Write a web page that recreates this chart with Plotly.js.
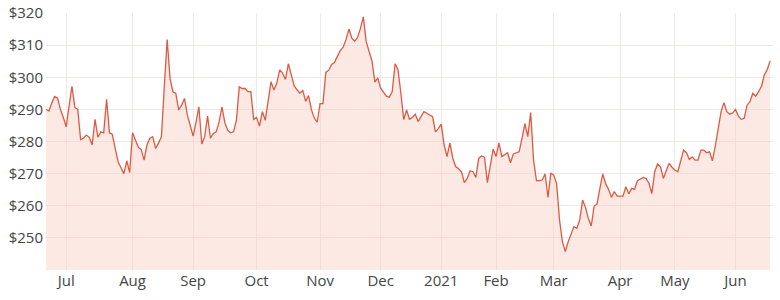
<!DOCTYPE html>
<html>
<head>
<meta charset="utf-8">
<script src="https://cdn.plot.ly/plotly-3.0.1.min.js"></script>
<style>html,body{margin:0;padding:0;background:#fff;}#chart{width:780px;height:300px;}</style>
</head>
<body>
<div id="chart"></div>
<script>
// Trading calendar (ASX): first and last session, market holidays in range
const startDate = '2020-06-22';
const endDate = '2021-06-18';
const holidays = ['2020-12-25', '2020-12-28', '2021-01-01', '2021-01-26', '2021-04-02', '2021-04-05', '2021-04-26', '2021-06-14'];

// Closing price per trading session (AUD)
const prices = [
  290, 289.5, 292, 294, 293.5, 290, 287.5,
  284.6, 291, 297.2, 290.6, 290, 280.6, 281, 282, 281.3, 278.9, 286.9, 281.3, 283, 282.7, 293.1, 282.7, 282.2, 277.8, 273.7, 271.8, 270, 274, 270.3,
  282.7, 280.2, 278.2, 277.5, 274.2, 278.9, 281, 281.5, 277.8, 279.5, 281.5, 297, 311.7, 299.6, 295.5, 295, 289.8, 291.3, 293.4, 288.2, 285,
  281.7, 286, 290.8, 279.2, 281.5, 287.9, 281, 282.5, 283, 286.1, 290.8, 285.8, 283.5, 282.7, 283, 286.6, 297, 296.5, 296.5, 295.5, 295.5, 286.9,
  287.5, 284.8, 289.3, 286.6, 293, 298.6, 296, 298.1, 302.3, 301.3, 299.3, 304.2, 300.8, 297.4, 296.1, 295.1, 295.9, 292.5, 294.3, 289.9, 287.3, 286,
  291.8, 291.8, 301.5, 302.2, 304, 304.6, 306.5, 308.3, 309.4, 311.7, 315, 312.2, 311.2, 312.4, 315.2, 318.8, 311, 307.6, 305, 298.5, 299.8,
  296.6, 295.5, 294.1, 293.8, 295.5, 304.2, 302.4, 295.1, 286.8, 289.8, 286.9, 287.5, 288.5, 286.2, 288, 289.3, 288.8, 288.3, 287.7, 283, 284,
  285.4, 278.9, 275.3, 279.6, 274.8, 272.2, 271.5, 270.6, 267.2, 268.5, 270.9, 270.6, 268.8, 274.8, 275.5, 275.1, 267.2, 272, 277.6,
  275.3, 279.6, 275.3, 276, 276.5, 273.4, 276.1, 276.5, 276.8, 281, 285.6, 281.5, 289, 274.2, 267.8, 267.8, 268, 269.9, 262.6, 270.1,
  269.6, 266.8, 255.6, 248.8, 245.7, 248.8, 251.4, 253.5, 253, 255.6, 261.8, 259.5, 256, 253.7, 259.9, 260.5, 265.4, 269.9, 266.8, 265.1, 262.6, 264.4, 263,
  263, 263, 265.9, 263.7, 265.4, 265.1, 267.8, 268.2, 268.8, 268.5, 267, 263.8, 270.6, 273, 272.1, 268.5, 271.1, 273.2, 272, 271.1,
  270.6, 274, 277.3, 276.5, 274.4, 275.2, 274.2, 274.2, 277.3, 277.3, 276.5, 276.8, 274, 278.6, 284.1, 289.3, 292.1, 289.3, 288.5, 288.9, 290,
  287.9, 286.9, 287.2, 291.3, 292.4, 295, 294.1, 295.5, 297.2, 300.7, 302.4, 305.1, 304.8
];

// Month ticks: first trading session of each month, and their labels
const tickDates = ['2020-07-01', '2020-08-03', '2020-09-01', '2020-10-01', '2020-11-02', '2020-12-01', '2021-01-04', '2021-02-01', '2021-03-01', '2021-04-01', '2021-05-03', '2021-06-01'];
const tickLabels = ['Jul', 'Aug', 'Sep', 'Oct', 'Nov', 'Dec', '2021', 'Feb', 'Mar', 'Apr', 'May', 'Jun'];

const yTicks = [250, 260, 270, 280, 290, 300, 310, 320];
const yTickLabels = ['$250', '$260', '$270', '$280', '$290', '$300', '$310', '$320'];

// Build the list of trading sessions from the calendar
function tradingDays(s, e, hol) {
  const out = [];
  const d = new Date(s + 'T00:00:00Z');
  const end = new Date(e + 'T00:00:00Z');
  while (d <= end) {
    const iso = d.toISOString().slice(0, 10);
    const wd = d.getUTCDay();
    if (wd !== 0 && wd !== 6 && hol.indexOf(iso) === -1) out.push(iso);
    d.setUTCDate(d.getUTCDate() + 1);
  }
  return out;
}
const dates = tradingDays(startDate, endDate, holidays);

const tickFont = {family: 'Open Sans, sans-serif', size: 15, color: '#454545'};

const trace = {
  x: dates.slice(0, prices.length),
  y: prices,
  type: 'scatter',
  mode: 'lines',
  line: {color: '#dc5a44', width: 1.3},
  fill: 'tozeroy',
  fillcolor: 'rgba(249, 206, 194, 0.45)',
  hoverinfo: 'x+y'
};

const layout = {
  width: 780,
  height: 300,
  margin: {l: 46, r: 7, t: 13, b: 30},
  paper_bgcolor: '#ffffff',
  plot_bgcolor: '#ffffff',
  showlegend: false,
  font: tickFont,
  xaxis: {
    type: 'category',
    range: [0, prices.length - 1],
    tickmode: 'array',
    tickvals: tickDates,
    ticktext: tickLabels,
    showgrid: true,
    gridcolor: '#efe9e8',
    gridwidth: 1,
    zeroline: false,
    showline: false,
    ticks: '',
    tickfont: tickFont,
    fixedrange: true
  },
  yaxis: {
    range: [240, 320],
    tickmode: 'array',
    tickvals: yTicks,
    ticktext: yTickLabels,
    showgrid: true,
    gridcolor: '#efe9e8',
    gridwidth: 1,
    zeroline: false,
    showline: false,
    ticks: '',
    ticklabelstandoff: 2,
    tickfont: tickFont,
    fixedrange: true
  }
};

Plotly.newPlot('chart', [trace], layout, {displayModeBar: false, staticPlot: true});
</script>
</body>
</html>
